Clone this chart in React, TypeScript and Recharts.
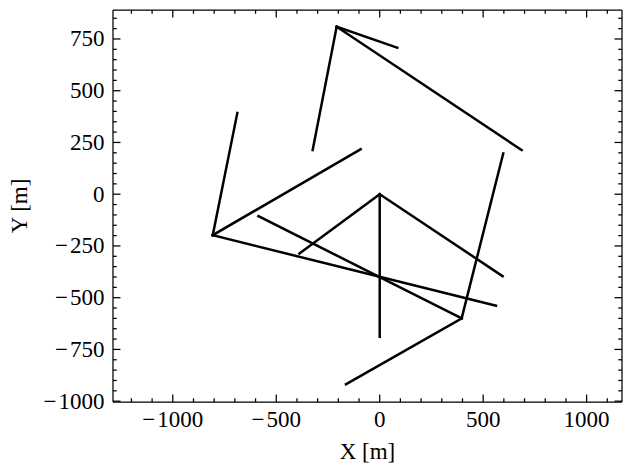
import { LineChart, Line, XAxis, YAxis } from 'recharts'

// segment end points (metres)
const startX = [-208, -208, -208, -688, -807, -807, 0, 0, 0, -586, 396, 396]
const startY = [809, 809, 809, 393, -198, -198, 0, 0, 0, -106, -600, -600]
const endX = [85, 686, -324, -807, -92, 562, 0, 594, -388, 396, 597, -163]
const endY = [708, 213, 213, -198, 217, -539, -689, -396, -286, -600, 197, -918]

const xMajor = [-1000, -500, 0, 500, 1000]
const xMinor = [-1200, -1100, -900, -800, -700, -600, -400, -300, -200, -100, 100, 200, 300, 400, 600, 700, 800, 900, 1100]
const yMajor = [-1000, -750, -500, -250, 0, 250, 500, 750]
const yMinor = [
  -950, -900, -850, -800, -700, -650, -600, -550, -450, -400, -350, -300, -200, -150, -100, -50,
  50, 100, 150, 200, 300, 350, 400, 450, 550, 600, 650, 700, 800, 850,
]

const xDomain: [number, number] = [-1289, 1171]
const yDomain: [number, number] = [-1004, 890]

const segments = startX.map((_, i) => [
  { x: startX[i], y: startY[i] },
  { x: endX[i], y: endY[i] },
])

const FONT = '"Liberation Serif", "DejaVu Serif", serif'
const FS = 23
const MAJOR = 7.5
const MINOR = 3.75
const W = 1.25

// mathtext-like minus: a little gap before the digits
function Num({ v }: { v: number }) {
  if (v >= 0) return <tspan>{v}</tspan>
  return (
    <>
      <tspan>{'\u2212'}</tspan>
      <tspan dx={2}>{Math.abs(v)}</tspan>
    </>
  )
}

function BottomTick({ x, y, payload }: any) {
  const major = xMajor.includes(payload.value)
  return (
    <g>
      <line x1={x} x2={x} y1={y} y2={y - (major ? MAJOR : MINOR)} stroke="#000" strokeWidth={W} />
      {major && (
        <text x={x} y={y + 25} textAnchor="middle" fontSize={FS} fontFamily={FONT} fill="#000">
          <Num v={payload.value} />
        </text>
      )}
    </g>
  )
}

function TopTick({ x, y, payload }: any) {
  const major = xMajor.includes(payload.value)
  return <line x1={x} x2={x} y1={y} y2={y + (major ? MAJOR : MINOR)} stroke="#000" strokeWidth={W} />
}

function LeftTick({ x, y, payload }: any) {
  const major = yMajor.includes(payload.value)
  return (
    <g>
      <line x1={x} x2={x + (major ? MAJOR : MINOR)} y1={y} y2={y} stroke="#000" strokeWidth={W} />
      {major && (
        <text x={x - 8.5} y={y + 7.5} textAnchor="end" fontSize={FS} fontFamily={FONT} fill="#000">
          <Num v={payload.value} />
        </text>
      )}
    </g>
  )
}

function RightTick({ x, y, payload }: any) {
  const major = yMajor.includes(payload.value)
  return <line x1={x} x2={x - (major ? MAJOR : MINOR)} y1={y} y2={y} stroke="#000" strokeWidth={W} />
}

export default function App() {
  const xTicks = [...xMajor, ...xMinor].sort((a, b) => a - b)
  const yTicks = [...yMajor, ...yMinor].sort((a, b) => a - b)
  return (
    <div style={{ position: 'absolute', left: 0, top: 0, width: 631, height: 472, background: '#fff' }}>
      <LineChart width={631} height={472} margin={{ top: 9, right: 8, bottom: 0, left: 0 }}>
        <XAxis
          xAxisId="b"
          type="number"
          dataKey="x"
          domain={xDomain}
          allowDataOverflow
          ticks={xTicks}
          interval={0}
          height={70}
          tickSize={0}
          tickMargin={0}
          tickLine={false}
          axisLine={{ stroke: '#000', strokeWidth: W }}
          tick={<BottomTick />}
          label={{ value: 'X [m]', position: 'insideBottom', offset: 13, fontSize: FS, fontFamily: FONT, fill: '#000' }}
        />
        <XAxis
          xAxisId="t"
          orientation="top"
          type="number"
          dataKey="x"
          domain={xDomain}
          allowDataOverflow
          ticks={xTicks}
          interval={0}
          height={1}
          tickSize={0}
          tickMargin={0}
          tickLine={false}
          axisLine={{ stroke: '#000', strokeWidth: W }}
          tick={<TopTick />}
        />
        <YAxis
          yAxisId="l"
          type="number"
          dataKey="y"
          domain={yDomain}
          allowDataOverflow
          ticks={yTicks}
          interval={0}
          width={113}
          tickSize={0}
          tickMargin={0}
          tickLine={false}
          axisLine={{ stroke: '#000', strokeWidth: W }}
          tick={<LeftTick />}
          label={{
            content: ({ viewBox }: any) => {
              const cy = viewBox.y + viewBox.height / 2
              return (
                <text
                  x={27}
                  y={cy}
                  textAnchor="middle"
                  fontSize={FS}
                  fontFamily={FONT}
                  fill="#000"
                  transform={`rotate(-90, 27, ${cy})`}
                >
                  Y [m]
                </text>
              )
            },
          }}
        />
        <YAxis
          yAxisId="r"
          orientation="right"
          type="number"
          dataKey="y"
          domain={yDomain}
          allowDataOverflow
          ticks={yTicks}
          interval={0}
          width={1}
          tickSize={0}
          tickMargin={0}
          tickLine={false}
          axisLine={{ stroke: '#000', strokeWidth: W }}
          tick={<RightTick />}
        />
        <Line
          xAxisId="t"
          yAxisId="r"
          data={segments[0]}
          dataKey="y"
          stroke="none"
          dot={false}
          activeDot={false}
          isAnimationActive={false}
        />
        {segments.map((seg, i) => (
          <Line
            key={i}
            xAxisId="b"
            yAxisId="l"
            data={seg}
            dataKey="y"
            stroke="#000"
            strokeWidth={2.5}
            strokeLinecap="square"
            dot={false}
            activeDot={false}
            isAnimationActive={false}
          />
        ))}
      </LineChart>
    </div>
  )
}
